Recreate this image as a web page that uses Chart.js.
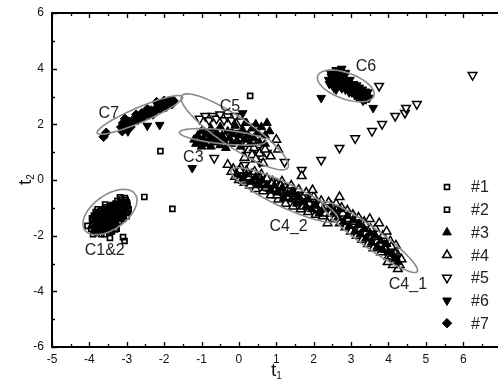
<!DOCTYPE html>
<html>
<head>
<meta charset="utf-8">
<script src="https://cdn.jsdelivr.net/npm/chart.js@4.4.1/dist/chart.umd.min.js"></script>
<style>
  html, body { margin: 0; padding: 0; background: #fff; overflow: hidden; }
  #wrap { width: 498px; height: 383px; position: relative; }
  #scoreChart { display: block; }
</style>
</head>
<body>
<div id="wrap"><canvas id="scoreChart"></canvas></div>
<script>
// axis ticks
const xTicks = [-5, -4, -3, -2, -1, 0, 1, 2, 3, 4, 5, 6];
const yTicks = [-6, -4, -2, 0, 2, 4, 6];

const seriesNames = ['#1', '#2', '#3', '#4', '#5', '#6', '#7'];

// score values, [t1, t2]
const s1 = [
  [-3.95, -1.75], [-3.9, -1.55], [-3.85, -1.35], [-3.8, -1.6], [-3.75, -1.2], [-3.7, -1.45],
  [-3.7, -1.85], [-3.65, -1.3], [-3.6, -1.05], [-3.6, -1.6], [-3.55, -1.4], [-3.5, -1.15],
  [-3.5, -1.8], [-3.45, -0.95], [-3.45, -1.5], [-3.4, -1.25], [-3.35, -1.05], [-3.35, -1.65],
  [-3.3, -0.85], [-3.3, -1.35], [-3.25, -1.1], [-3.2, -0.9], [-3.2, -1.5], [-3.15, -0.7],
  [-3.1, -1.2], [-3.05, -0.95], [-3.0, -0.8], [-3.0, -1.3], [-4.05, -1.65], [-3.8, -1.9],
  [-3.92, -1.62], [-3.88, -1.28], [-3.82, -1.45], [-3.78, -1.72], [-3.72, -1.33], [-3.68, -1.58],
  [-3.63, -1.18], [-3.62, -1.42], [-3.57, -1.68], [-3.53, -1.32], [-3.48, -1.05], [-3.47, -1.62],
  [-3.42, -1.38], [-3.38, -1.12], [-3.36, -1.52], [-3.32, -0.95], [-3.28, -1.22], [-3.27, -1.75],
  [-3.22, -1.02], [-3.18, -1.3], [-3.13, -0.82], [-3.12, -1.08], [-3.08, -1.35], [-3.03, -0.72],
  [-2.98, -0.92], [-2.97, -1.18], [-3.58, -0.88], [-3.83, -1.15], [-3.68, -1.95], [-3.4, -1.85],
  [-2.53, -0.61], [-1.78, -1.04], [-2.1, 1.04], [0.3, 3.02]
];
const s2 = [
  [-3.9, -1.45], [-3.85, -1.7], [-3.75, -1.5], [-3.7, -1.1], [-3.65, -1.7], [-3.55, -1.25],
  [-3.5, -1.55], [-3.45, -2.08], [-3.4, -0.9], [-3.4, -1.4], [-3.3, -1.6], [-3.25, -1.25],
  [-3.15, -1.0], [-3.1, -2.05], [-3.1, -1.4], [-3.06, -2.19], [-3.05, -0.65], [-2.95, -1.05],
  [-3.6, -1.95], [-3.25, -0.75],
  [-3.93, -1.38], [-3.87, -1.82], [-3.81, -1.25], [-3.77, -1.4], [-3.73, -1.65], [-3.66, -1.48],
  [-3.64, -1.22], [-3.59, -1.52], [-3.56, -1.12], [-3.52, -1.72], [-3.49, -1.36], [-3.44, -1.18],
  [-3.41, -1.58], [-3.37, -0.98], [-3.34, -1.3], [-3.29, -1.48], [-3.26, -0.92], [-3.23, -1.38],
  [-3.19, -1.15], [-3.16, -0.88], [-3.14, -1.28], [-3.09, -1.05], [-3.07, -0.78], [-3.02, -1.12],
  [-2.99, -0.85], [-3.62, -1.82], [-3.46, -1.9], [-3.78, -1.05], [-3.55, -0.98], [-3.31, -1.78],
  [-3.9, -1.95], [-3.18, -0.62]
];
const s3 = [
  [-1.2, 1.45], [-1.15, 1.3], [-1.1, 1.6], [-1.05, 1.4], [-1.0, 1.2], [-1.0, 1.75],
  [-0.95, 1.5], [-0.9, 1.3], [-0.85, 1.65], [-0.8, 1.45], [-0.75, 1.2], [-0.75, 1.85],
  [-0.7, 1.55], [-0.65, 1.35], [-0.6, 1.7], [-0.55, 1.45], [-0.5, 1.25], [-0.5, 1.9],
  [-0.45, 1.6], [-0.4, 1.4], [-0.35, 1.15], [-0.3, 1.75], [-0.25, 1.5], [-0.2, 1.3],
  [-0.15, 1.65], [-0.1, 1.95], [-0.05, 1.4], [0.0, 1.6], [0.05, 1.2], [0.1, 1.8],
  [0.15, 1.45], [0.2, 2.05], [0.25, 1.6], [0.3, 1.3], [0.35, 1.85], [0.4, 1.5],
  [0.45, 2.0], [0.5, 1.7], [0.55, 1.35], [0.6, 1.9], [0.7, 1.6], [0.75, 2.05],
  [0.82, 1.75], [0.7, 1.3],
  [-0.05, 0.2], [0.1, 0.05], [0.2, 0.2], [0.35, -0.05], [0.45, 0.1], [0.5, -0.15],
  [0.6, -0.02], [0.75, -0.2], [0.85, -0.35], [0.95, -0.2], [1.05, -0.45], [1.15, -0.3],
  [1.2, -0.65], [1.3, -0.5], [1.4, -0.7], [1.45, -0.45], [1.55, -0.85], [1.6, -0.6],
  [1.7, -0.8], [1.8, -0.95], [1.85, -0.7], [1.95, -1.05], [2.05, -0.9], [2.15, -1.2],
  [2.25, -1.05],
  [2.45, -1.0], [2.55, -1.15], [2.65, -1.35], [2.7, -1.05], [2.8, -1.5], [2.9, -1.3],
  [2.95, -1.65], [3.05, -1.45], [3.1, -1.85], [3.2, -1.6], [3.25, -1.95], [3.35, -1.75],
  [3.4, -2.1], [3.5, -1.9], [3.55, -2.25], [3.65, -2.0], [3.7, -2.4], [3.8, -2.2],
  [3.85, -2.5], [3.95, -2.3], [4.0, -2.6], [4.1, -2.65], [4.2, -2.8], [4.25, -2.95]
];
const s4 = [
  [-0.15, 0.40], [-0.1, 0.12], [-0.05, 0.28], [0.0, 0.0], [0.05, 0.45], [0.1, 0.18],
  [0.15, -0.1], [0.2, 0.33], [0.25, 0.05], [0.3, -0.2], [0.35, 0.22], [0.4, -0.05],
  [0.45, -0.32], [0.5, 0.12], [0.55, -0.18], [0.6, 0.2], [0.65, -0.4], [0.7, -0.1],
  [0.75, 0.05], [0.8, -0.3], [0.85, -0.55], [0.9, -0.05], [0.95, -0.38], [1.0, -0.15],
  [1.05, -0.7], [1.1, -0.3], [1.15, -0.05], [1.2, -0.55], [1.25, -0.85], [1.3, -0.35],
  [1.35, -0.65], [1.4, -0.2], [1.45, -0.95], [1.5, -0.5], [1.55, -0.75], [1.6, -0.35],
  [1.65, -1.05], [1.7, -0.6], [1.75, -0.85], [1.8, -0.45], [1.85, -1.15], [1.9, -0.7],
  [1.95, -0.95], [2.0, -0.6], [2.05, -1.25], [2.1, -0.85], [2.15, -1.1], [2.2, -0.75],
  [2.25, -1.3], [2.3, -1.0],
  [-0.2, 0.3], [0.02, 0.35], [0.12, -0.02], [0.28, 0.1], [0.42, 0.3], [0.58, 0.05],
  [0.72, -0.28], [0.88, -0.15], [1.02, -0.55], [1.12, -0.2], [1.28, -0.62], [1.42, -0.45],
  [1.58, -0.62], [1.72, -0.95], [1.88, -0.85], [2.02, -1.02], [2.18, -0.92], [2.32, -1.2],
  [2.4, -0.8], [2.45, -1.2], [2.5, -1.0], [2.55, -1.4], [2.6, -0.85], [2.65, -1.2],
  [2.7, -1.55], [2.75, -1.0], [2.8, -1.35], [2.85, -1.7], [2.9, -1.1], [2.95, -1.5],
  [3.0, -1.85], [3.05, -1.25], [3.1, -1.6], [3.15, -2.0], [3.2, -1.35], [3.25, -1.75],
  [3.3, -2.15], [3.35, -1.5], [3.4, -1.9], [3.45, -2.3], [3.5, -1.4], [3.55, -2.05],
  [3.6, -2.45], [3.65, -1.75], [3.7, -2.2], [3.75, -1.55], [3.8, -2.6], [3.85, -2.0],
  [3.9, -2.35], [3.95, -1.85], [4.0, -2.75], [4.05, -2.2], [4.1, -2.5], [4.15, -2.9],
  [4.2, -2.35], [4.25, -2.7], [4.3, -3.05], [4.35, -2.85], [4.25, -3.2],
  [2.48, -0.95], [2.62, -1.1], [2.78, -1.2], [2.92, -1.4], [3.08, -1.5], [3.22, -1.6],
  [3.38, -1.6], [3.52, -1.75], [3.62, -2.05], [3.78, -2.3], [3.92, -2.5], [4.08, -2.4],
  [4.18, -2.65], [4.12, -3.05], [3.98, -2.95],
  [2.69, -0.61], [2.37, -1.55], [1.97, -0.36], [1.68, 0.14],
  [0.0, 1.5], [0.2, 1.3], [0.4, 1.15], [0.55, 0.95], [0.7, 1.1], [0.35, 0.9],
  [0.85, 0.85], [-0.3, 0.55], [1.0, 1.45], [1.05, 1.1], [0.15, 0.8], [0.45, 0.75], [0.65, 0.6]
];
const s5 = [
  [-1.05, 2.2], [-0.9, 2.3], [-0.8, 2.15], [-0.7, 2.3], [-0.6, 2.2], [-0.5, 2.35],
  [-0.4, 2.15], [-0.3, 2.28], [-0.2, 2.15], [-0.1, 2.3], [0.05, 2.1],
  [-0.82, 1.72], [-0.29, 1.72], [0.03, 1.69], [0.37, 1.37], [-0.55, 1.5], [0.2, 1.55],
  [0.16, 1.19], [0.48, 1.08], [0.21, 0.9], [0.74, 0.97], [0.56, 0.65],
  [-0.66, 0.79], [0.16, 0.54], [0.5, 0.9], [1.22, 0.65], [1.68, 0.36], [2.2, 0.72],
  [2.69, 1.15], [3.11, 1.5], [3.56, 1.76], [3.83, 2.01], [4.18, 2.3], [4.44, 2.41],
  [4.47, 2.59], [4.76, 2.73], [3.75, 3.38], [6.25, 3.77]
];
const s6 = [
  [2.4, 3.6], [2.45, 3.85], [2.5, 3.4], [2.55, 3.7], [2.6, 3.95], [2.65, 3.5],
  [2.7, 3.75], [2.75, 3.3], [2.8, 3.6], [2.85, 3.85], [2.9, 3.4], [2.95, 3.15],
  [2.95, 3.45], [3.05, 3.3], [3.1, 3.05], [3.15, 3.4], [3.2, 3.2], [3.25, 2.95],
  [3.3, 3.25], [3.35, 3.05], [3.4, 2.9], [3.45, 3.15], [2.6, 3.25], [2.75, 4.0],
  [2.42, 3.45], [2.47, 3.72], [2.52, 3.55], [2.57, 3.85], [2.62, 3.62], [2.67, 3.38],
  [2.72, 3.88], [2.72, 3.58], [2.78, 3.45], [2.82, 3.72], [2.87, 3.5], [2.92, 3.28],
  [2.97, 3.6], [3.02, 3.15], [3.07, 3.45], [3.12, 3.22], [3.17, 2.98], [3.22, 3.32],
  [3.27, 3.08], [3.32, 2.85], [3.38, 3.18], [3.42, 3.0], [3.48, 2.95], [2.55, 3.3], [2.85, 3.25],
  [2.2, 2.95], [3.59, 2.59], [0.1, 2.4], [-2.97, 1.75], [-2.45, 1.95], [-2.12, 1.98],
  [-1.25, 0.43]
];
const s7 = [
  [-3.62, 1.55], [-3.55, 1.7], [-3.15, 1.9], [-3.1, 2.05], [-3.0, 1.95], [-2.95, 2.1],
  [-2.85, 2.05], [-2.8, 2.2], [-2.7, 2.15], [-2.65, 2.3], [-2.55, 2.25], [-2.5, 2.4],
  [-2.4, 2.35], [-2.35, 2.5], [-2.25, 2.45], [-2.2, 2.6], [-2.1, 2.55], [-2.05, 2.68],
  [-1.95, 2.62], [-1.9, 2.75], [-1.8, 2.72], [-1.75, 2.85], [-2.6, 2.4], [-2.3, 2.35],
  [-3.05, 2.2], [-2.2, 2.8], [-2.0, 2.85],
  [-3.12, 1.75], [-2.9, 1.9], [-2.75, 2.35], [-2.45, 2.55], [-2.15, 2.72], [-1.85, 2.85]
];

// cluster ellipses: centre plus two conjugate half-axes, in t1/t2 units
const ellipseCx = [-3.45, -2.65, -0.11, -0.43, 1.22, 3.50, 2.86];
const ellipseCy = [-1.15, 2.34, 1.73, 1.55, -0.54, -2.05, 3.38];
const ellipseUx = [0.67, 1.14, 1.42, 1.16, 1.43, 1.27, 0.75];
const ellipseUy = [0.65, 0.65, -1.29, -0.16, -0.90, -1.24, -0.36];
const ellipseVx = [-0.27, -0.078, 0.22, 0.02, 0.136, 0.157, 0.117];
const ellipseVy = [0.49, 0.248, 0.45, 0.25, 0.39, 0.29, 0.44];

const clusterNames = ['C1&2', 'C7', 'C5', 'C3', 'C4_2', 'C4_1', 'C6'];
const clusterX = [-3.59, -3.48, -0.24, -1.22, 1.33, 4.52, 3.40];
const clusterY = [-2.52, 2.37, 2.62, 0.79, -1.66, -3.74, 4.06];

const FONT = 'Arial, "Liberation Sans", Helvetica, sans-serif';

const toXY = arr => arr.map(p => ({ x: p[0], y: p[1] }));

const styles = [
  { pointStyle: 'rect', radius: 3.5, fill: 'rgba(255,255,255,0)', rotation: 0, bw: 1.7 },
  { pointStyle: 'rect', radius: 3.5, fill: 'rgba(255,255,255,0)', rotation: 0, bw: 1.7 },
  { pointStyle: 'triangle', radius: 5, fill: '#000', rotation: 0, bw: 1 },
  { pointStyle: 'triangle', radius: 5, fill: '#fff', rotation: 0, bw: 1.5 },
  { pointStyle: 'triangle', radius: 5, fill: '#fff', rotation: 180, bw: 1.5 },
  { pointStyle: 'triangle', radius: 5, fill: '#000', rotation: 180, bw: 1 },
  { pointStyle: 'rectRot', radius: 4.7, fill: '#000', rotation: 0, bw: 1 }
];

const allSeries = [s1, s2, s3, s4, s5, s6, s7];

const datasets = allSeries.map((s, i) => ({
  label: seriesNames[i],
  data: toXY(s),
  pointStyle: styles[i].pointStyle,
  pointRadius: styles[i].radius,
  pointRotation: styles[i].rotation,
  pointBackgroundColor: styles[i].fill,
  pointBorderColor: '#000',
  pointBorderWidth: styles[i].bw,
  showLine: false
}));

// ellipses, cluster names, legend, inward ticks and titles
const decorPlugin = {
  id: 'decor',
  afterDatasetsDraw(chart) {
    const ctx = chart.ctx;
    const xs = chart.scales.x, ys = chart.scales.y;
    ctx.save();
    ctx.strokeStyle = '#8a8a8a';
    ctx.lineWidth = 1.6;
    for (let i = 0; i < ellipseCx.length; i++) {
      ctx.beginPath();
      for (let k = 0; k <= 90; k++) {
        const t = k / 90 * Math.PI * 2;
        const dx = ellipseCx[i] + ellipseUx[i] * Math.cos(t) + ellipseVx[i] * Math.sin(t);
        const dy = ellipseCy[i] + ellipseUy[i] * Math.cos(t) + ellipseVy[i] * Math.sin(t);
        const px = xs.getPixelForValue(dx), py = ys.getPixelForValue(dy);
        if (k === 0) ctx.moveTo(px, py); else ctx.lineTo(px, py);
      }
      ctx.closePath();
      ctx.stroke();
    }

    ctx.fillStyle = '#222';
    ctx.font = '16px ' + FONT;
    ctx.textAlign = 'center';
    ctx.textBaseline = 'middle';
    clusterNames.forEach((name, i) => {
      ctx.fillText(name, xs.getPixelForValue(clusterX[i]), ys.getPixelForValue(clusterY[i]));
    });

    // legend
    const lx = 447, ly0 = 187, step = 22.7;
    chart.data.datasets.forEach((ds, i) => {
      const y = ly0 + i * step;
      ctx.fillStyle = ds.pointBackgroundColor;
      ctx.strokeStyle = '#000';
      ctx.lineWidth = ds.pointBorderWidth;
      Chart.helpers.drawPoint(ctx, {
        pointStyle: ds.pointStyle, radius: ds.pointRadius,
        rotation: ds.pointRotation, borderWidth: ds.pointBorderWidth
      }, lx, y);
      ctx.fillStyle = '#222';
      ctx.font = '16px ' + FONT;
      ctx.textAlign = 'left';
      ctx.textBaseline = 'middle';
      ctx.fillText(ds.label, 471, y + 1);
    });
    ctx.restore();
  },
  afterDraw(chart) {
    const ctx = chart.ctx;
    const area = chart.chartArea;
    const xs = chart.scales.x, ys = chart.scales.y;
    ctx.save();
    ctx.strokeStyle = '#000';
    ctx.lineWidth = 2;
    ctx.beginPath();
    ctx.moveTo(area.left - 1, area.top);
    ctx.lineTo(area.right, area.top);
    ctx.stroke();

    ctx.lineWidth = 1.3;
    ctx.beginPath();
    for (let v = -5; v <= 6.9; v += 0.5) {
      const px = Math.round(xs.getPixelForValue(v)) + 0.5;
      const len = Number.isInteger(v) ? 5 : 3;
      ctx.moveTo(px, area.bottom);
      ctx.lineTo(px, area.bottom - len);
      ctx.moveTo(px, area.top);
      ctx.lineTo(px, area.top + len);
    }
    for (let v = -6; v <= 6; v += 1) {
      const py = Math.round(ys.getPixelForValue(v)) + 0.5;
      const len = v % 2 === 0 ? 5 : 3;
      ctx.moveTo(area.left, py);
      ctx.lineTo(area.left + len, py);
    }
    ctx.stroke();

    // axis titles t1 and t2
    ctx.fillStyle = '#111';
    ctx.textBaseline = 'alphabetic';
    ctx.textAlign = 'left';
    const cx = (area.left + area.right) / 2;
    ctx.font = '19px ' + FONT;
    const tw = ctx.measureText('t').width;
    ctx.fillText('t', cx - 4, 376);
    ctx.font = '10px ' + FONT;
    ctx.fillText('1', cx - 4 + tw, 379);

    const cy = (area.top + area.bottom) / 2;
    ctx.translate(31, cy);
    ctx.rotate(-Math.PI / 2);
    ctx.font = '19px ' + FONT;
    ctx.fillText('t', -5, 0);
    ctx.font = '10px ' + FONT;
    ctx.fillText('2', -5 + tw, 3);
    ctx.restore();
  },
  afterLayout(chart) {
    // keep the plot running to the right edge of the canvas, as in the source figure
    const xs = chart.scales.x;
    if (chart.chartArea.right < chart.width) {
      chart.chartArea.right = chart.width;
      chart.chartArea.width = chart.chartArea.right - chart.chartArea.left;
      xs.right = chart.width;
      xs.width = xs.right - xs.left;
      xs.configure();
    }
  }
};

new Chart(document.getElementById('scoreChart'), {
  type: 'scatter',
  data: { datasets: datasets },
  options: {
    responsive: true,
    maintainAspectRatio: false,
    animation: false,
    layout: { padding: { top: 13, left: 0, right: 0, bottom: 0 } },
    plugins: { legend: { display: false }, tooltip: { enabled: false } },
    scales: {
      x: {
        type: 'linear',
        min: -5,
        max: 6.93,
        afterBuildTicks: s => { s.ticks = xTicks.map(v => ({ value: v })); },
        afterFit: s => { s.height = 36; s.paddingLeft = 0; s.paddingRight = 0; },
        grid: { display: true, drawOnChartArea: false, drawTicks: false },
        border: { display: true, color: '#000', width: 2 },
        ticks: { color: '#111', padding: 5, maxRotation: 0, font: { size: 12, family: FONT } }
      },
      y: {
        type: 'linear',
        min: -6,
        max: 6,
        afterBuildTicks: s => { s.ticks = yTicks.map(v => ({ value: v })); },
        afterFit: s => { s.width = 52; s.paddingTop = 0; s.paddingBottom = 0; },
        grid: { display: true, drawOnChartArea: false, drawTicks: false },
        border: { display: true, color: '#000', width: 2 },
        ticks: { color: '#111', padding: 8, font: { size: 12, family: FONT } }
      }
    }
  },
  plugins: [decorPlugin]
});
</script>
</body>
</html>
